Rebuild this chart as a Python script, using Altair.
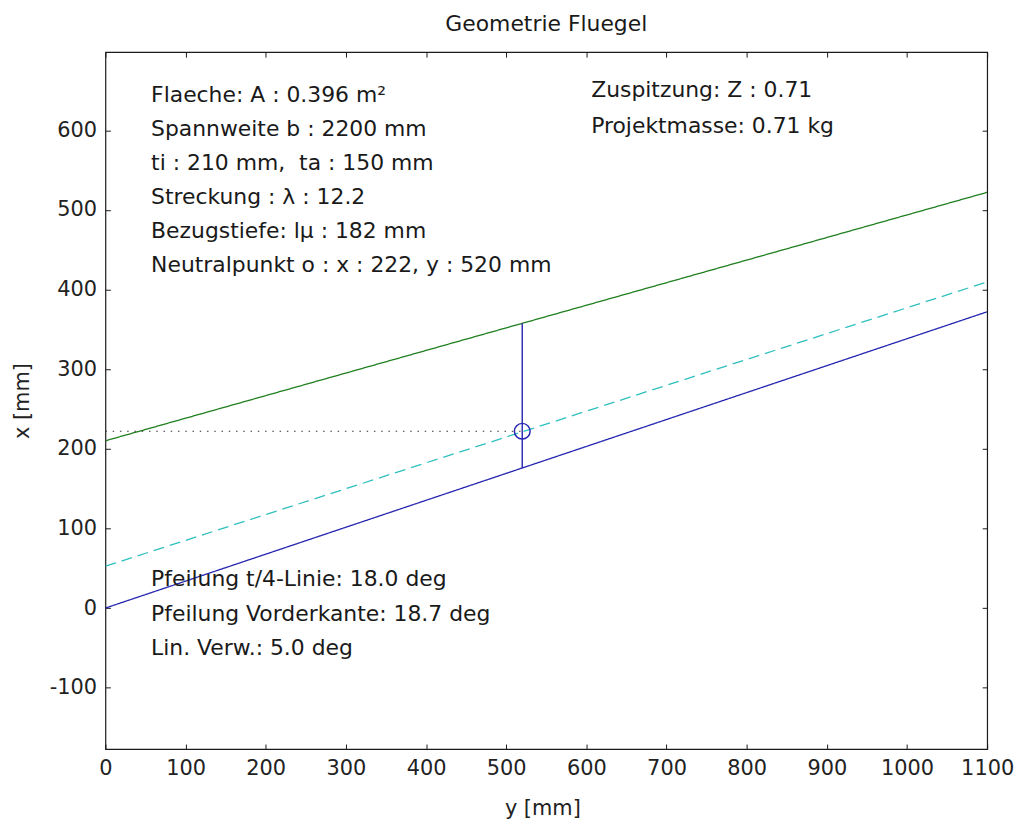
import altair as alt
import pandas as pd

# ---- data ----
edge_series = ["Vorderkante", "Vorderkante", "t/4-Linie", "t/4-Linie", "Hinterkante", "Hinterkante"]
edge_span = [0, 1100, 0, 1100, 0, 1100]          # horizontal "y [mm]"
edge_chord = [210, 522, 52.5, 409.5, 0, 372]     # vertical "x [mm]"

np_span = [520]
np_chord = [222]

rib_span = [520]
rib_low = [175.8]
rib_high = [357.5]

ref_span = [0, 520]
ref_chord = [222, 222]

text_left = ["Flaeche: A : 0.396 m²", "Spannweite b : 2200 mm", "ti : 210 mm, \u00a0ta : 150 mm",
             "Streckung : λ : 12.2", "Bezugstiefe: lμ : 182 mm", "Neutralpunkt o : x : 222, y : 520 mm"]
text_right = ["Zuspitzung: Z : 0.71", "Projektmasse: 0.71 kg"]
text_bottom = ["Pfeilung t/4-Linie: 18.0 deg", "Pfeilung Vorderkante: 18.7 deg", "Lin. Verw.: 5.0 deg"]

x_ticks = list(range(0, 1101, 100))
y_ticks = list(range(-100, 601, 100))

# annotation anchors (data units)
left_anchor = (57, 636)
right_anchor = (606, 642)
bottom_anchor = (57, 28)

FONT = "DejaVu Sans"
W, H = 887, 701

xs = alt.Scale(domain=[0, 1100], nice=False, zero=False)
ys = alt.Scale(domain=[-177, 698], nice=False, zero=False)

edges = pd.DataFrame({"series": edge_series, "span": edge_span, "chord": edge_chord})
npt = pd.DataFrame({"span": np_span, "chord": np_chord})
rib = pd.DataFrame({"span": rib_span, "lo": rib_low, "hi": rib_high})
ref = pd.DataFrame({"span": ref_span, "chord": ref_chord})

axis_common = dict(domain=False, ticks=True, tickSize=5, offset=-5, tickColor="#1a1a1a",
                   labelFont=FONT, labelFontSize=21, labelColor="#222222",
                   labelOverlap=False, labelFlush=False, labelExpr="'' + datum.value",
                   titleFont=FONT, titleFontSize=21, titleFontWeight="normal", titleColor="#222222",
                   grid=False)

x_bottom = alt.Axis(orient="bottom", values=x_ticks, labelPadding=9, title="y [mm]",
                    titleX=W / 2 - 4, titleY=71, titleBaseline="alphabetic", titleAlign="center",
                    **axis_common)
y_left = alt.Axis(orient="left", values=y_ticks, labelPadding=9, title="x [mm]",
                  titleX=-82, titleY=H / 2, titleAngle=270, titleBaseline="alphabetic",
                  titleAlign="center", **axis_common)
x_top = alt.Axis(orient="top", values=x_ticks, labels=False, title=None, domain=False,
                 ticks=True, tickSize=5, offset=-5, tickColor="#1a1a1a", grid=False)
y_right = alt.Axis(orient="right", values=y_ticks, labels=False, title=None, domain=False,
                   ticks=True, tickSize=5, offset=-5, tickColor="#1a1a1a", grid=False)

lines = alt.Chart(edges).mark_line(strokeWidth=1.3, clip=True).encode(
    x=alt.X("span:Q", scale=xs, axis=x_bottom),
    y=alt.Y("chord:Q", scale=ys, axis=y_left),
    color=alt.Color("series:N", scale=alt.Scale(domain=["Vorderkante", "t/4-Linie", "Hinterkante"],
                                                 range=["#1f7f1f", "#2fbfbf", "#2525b0"]), legend=None),
    strokeDash=alt.StrokeDash("series:N", scale=alt.Scale(domain=["Vorderkante", "t/4-Linie", "Hinterkante"],
                                                          range=[[1, 0], [11, 6], [1, 0]]), legend=None),
    detail="series:N",
)

refline = alt.Chart(ref).mark_line(strokeWidth=1.2, strokeDash=[1.5, 5.8], color="#333333").encode(
    x=alt.X("span:Q", scale=xs, axis=x_top),
    y=alt.Y("chord:Q", scale=ys, axis=y_right),
)

ribline = alt.Chart(rib).mark_rule(strokeWidth=1.4, color="#2525b0").encode(
    x=alt.X("span:Q", scale=xs, axis=None),
    y=alt.Y("lo:Q", scale=ys, axis=None),
    y2="hi:Q",
)

point = alt.Chart(npt).mark_point(shape="circle", size=250, filled=False, strokeWidth=1.5,
                                  color="#2525b0", opacity=1).encode(
    x=alt.X("span:Q", scale=xs, axis=None),
    y=alt.Y("chord:Q", scale=ys, axis=None),
)


def text_block(lines_, anchor, lh):
    df = pd.DataFrame({"span": [anchor[0]], "chord": [anchor[1]], "txt": ["\n".join(lines_)]})
    return alt.Chart(df).mark_text(align="left", baseline="alphabetic", font=FONT, fontSize=22,
                                   color="#1a1a1a", lineBreak="\n", lineHeight=lh).encode(
        x=alt.X("span:Q", scale=xs, axis=None),
        y=alt.Y("chord:Q", scale=ys, axis=None),
        text="txt:N",
    )


chart = alt.layer(
    lines, refline, ribline, point,
    text_block(text_left, left_anchor, 34.4),
    text_block(text_right, right_anchor, 36.6),
    text_block(text_bottom, bottom_anchor, 35),
).resolve_axis(x="independent", y="independent").properties(
    width=W, height=H,
    title=alt.TitleParams("Geometrie Fluegel", font=FONT, fontSize=22, fontWeight="normal",
                          color="#1a1a1a", anchor="middle", baseline="alphabetic", offset=19, dy=20),
    autosize=alt.AutoSizeParams(type="none"),
    padding={"left": 98, "top": 42, "right": 28, "bottom": 68},
).configure_view(stroke="#1a1a1a", strokeWidth=1.2)

chart.save("out.html", embed_options={"renderer": "svg", "actions": False})
